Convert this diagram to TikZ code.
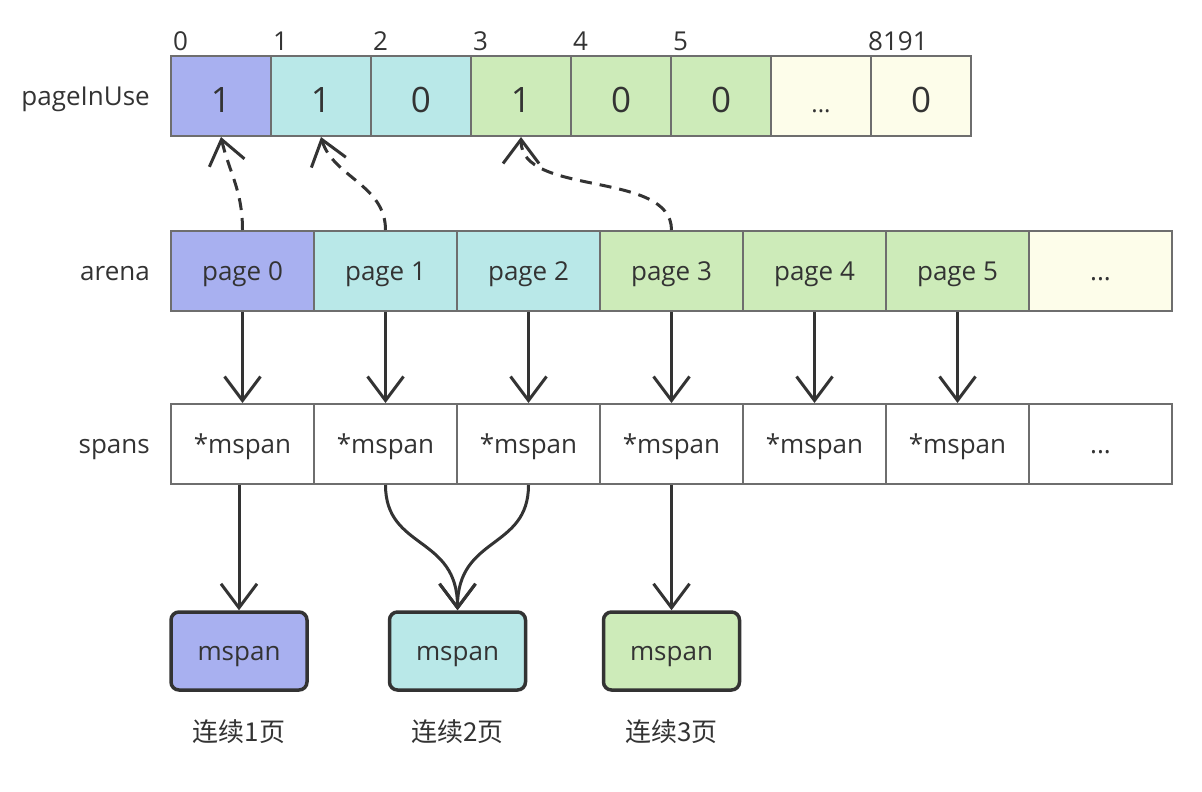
\documentclass[tikz,border=0pt]{standalone}
\usepackage{fontspec}
\setmainfont{Open Sans}
\newfontfamily\cjk{Noto Sans CJK SC}
\usetikzlibrary{arrows.meta}
\definecolor{cpurple}{HTML}{A8B0F0}
\definecolor{ccyan}{HTML}{B9E8E8}
\definecolor{cgreen}{HTML}{CDEBB9}
\definecolor{cyellow}{HTML}{FDFDEA}
\definecolor{cborder}{HTML}{6E6E6E}
\definecolor{cdark}{HTML}{333333}
\tikzset{
  txt/.style={font=\fontsize{26}{30}\selectfont, text=cdark},
  ctr/.style={txt, text height=22pt, text depth=4pt},
  bit/.style={draw=cborder, line width=2pt, minimum width=100pt, minimum height=80pt, inner sep=0pt, font=\fontsize{35}{40}\selectfont, text=cdark, text height=36pt, text depth=4pt},
  pg/.style={draw=cborder, line width=2pt, minimum width=143pt, minimum height=80pt, inner sep=0pt, ctr},
  spanbox/.style={draw=cdark, line width=3.5pt, rounded corners=8pt, minimum width=136pt, minimum height=78pt, inner sep=0pt, ctr},
  arr/.style={draw=cdark, line width=3pt, -{Straight Barb[length=24pt,width=36pt,line width=3pt]}},
  darr/.style={arr, dash pattern=on 12pt off 8pt}
}
\begin{document}
\begin{tikzpicture}[x=1pt,y=-1pt]
\useasboundingbox (0,0) rectangle (1202,792);
% labels
\node[ctr, anchor=east, inner sep=0pt] (lbl1) at (150,96) {pageInUse};
\node[ctr, anchor=east, inner sep=0pt] (lbl2) at (150,271) {arena};
\node[ctr, anchor=east, inner sep=0pt] (lbl3) at (150,444) {spans};
% top bits
\node[bit, fill=cpurple] (t0) at (221,96) {1};
\node[bit, fill=ccyan] (t1) at (321,96) {1};
\node[bit, fill=ccyan] (t2) at (421,96) {0};
\node[bit, fill=cgreen] (t3) at (521,96) {1};
\node[bit, fill=cgreen] (t4) at (621,96) {0};
\node[bit, fill=cgreen] (t5) at (721,96) {0};
\node[bit, fill=cyellow, font=\fontsize{24}{30}\selectfont] (t6) at (821,96) {...};
\node[bit, fill=cyellow] (t7) at (921,96) {0};
% indices
\node[txt, anchor=base west, inner sep=0pt] (i0) at (173,51) {0};
\node[txt, anchor=base west, inner sep=0pt] (i1) at (273,51) {1};
\node[txt, anchor=base west, inner sep=0pt] (i2) at (373,51) {2};
\node[txt, anchor=base west, inner sep=0pt] (i3) at (473,51) {3};
\node[txt, anchor=base west, inner sep=0pt] (i4) at (573,51) {4};
\node[txt, anchor=base west, inner sep=0pt] (i5) at (673,51) {5};
\node[txt, anchor=base west, inner sep=0pt] (i6) at (868,51) {8191};
% arena
\node[pg, fill=cpurple] (a0) at (242.5,271) {page 0};
\node[pg, fill=ccyan] (a1) at (385.5,271) {page 1};
\node[pg, fill=ccyan] (a2) at (528.5,271) {page 2};
\node[pg, fill=cgreen] (a3) at (671.5,271) {page 3};
\node[pg, fill=cgreen] (a4) at (814.5,271) {page 4};
\node[pg, fill=cgreen] (a5) at (957.5,271) {page 5};
\node[pg, fill=cyellow] (a6) at (1100.5,271) {...};
% spans
\node[pg, fill=white] (s0) at (242.5,444) {*mspan};
\node[pg, fill=white] (s1) at (385.5,444) {*mspan};
\node[pg, fill=white] (s2) at (528.5,444) {*mspan};
\node[pg, fill=white] (s3) at (671.5,444) {*mspan};
\node[pg, fill=white] (s4) at (814.5,444) {*mspan};
\node[pg, fill=white] (s5) at (957.5,444) {*mspan};
\node[pg, fill=white] (s6) at (1100.5,444) {...};
% mspan boxes
\node[spanbox, fill=cpurple] (b1) at (239,651) {mspan};
\node[spanbox, fill=ccyan] (b2) at (457.5,651) {mspan};
\node[spanbox, fill=cgreen] (b3) at (671.5,651) {mspan};
% captions
\node[txt, anchor=base] (c1) at (239,741) {\cjk 连续1页};
\node[txt, anchor=base] (c2) at (457.5,741) {\cjk 连续2页};
\node[txt, anchor=base] (c3) at (671.5,741) {\cjk 连续3页};
% dashed arrows
\draw[darr] (a0.north) .. controls +(0,-40) and +(8,35) .. (t0.south);
\draw[darr] (a1.north) .. controls +(0,-45) and +(12,40) .. (t1.south);
\draw[darr] (a3.north) .. controls +(0,-60) and +(0,60) .. (t3.south);
% solid arrows arena -> spans
\foreach \i in {0,...,5} { \draw[arr] (a\i.south) -- (s\i.north); }
% spans -> boxes
\draw[arr] (b1.north |- s0.south) -- (b1.north);
\draw[arr] (s1.south) .. controls +(0,65) and +(0,-75) .. (b2.north);
\draw[arr] (s2.south) .. controls +(0,65) and +(0,-75) .. (b2.north);
\draw[arr] (s3.south) -- (b3.north);
\end{tikzpicture}
\end{document}
